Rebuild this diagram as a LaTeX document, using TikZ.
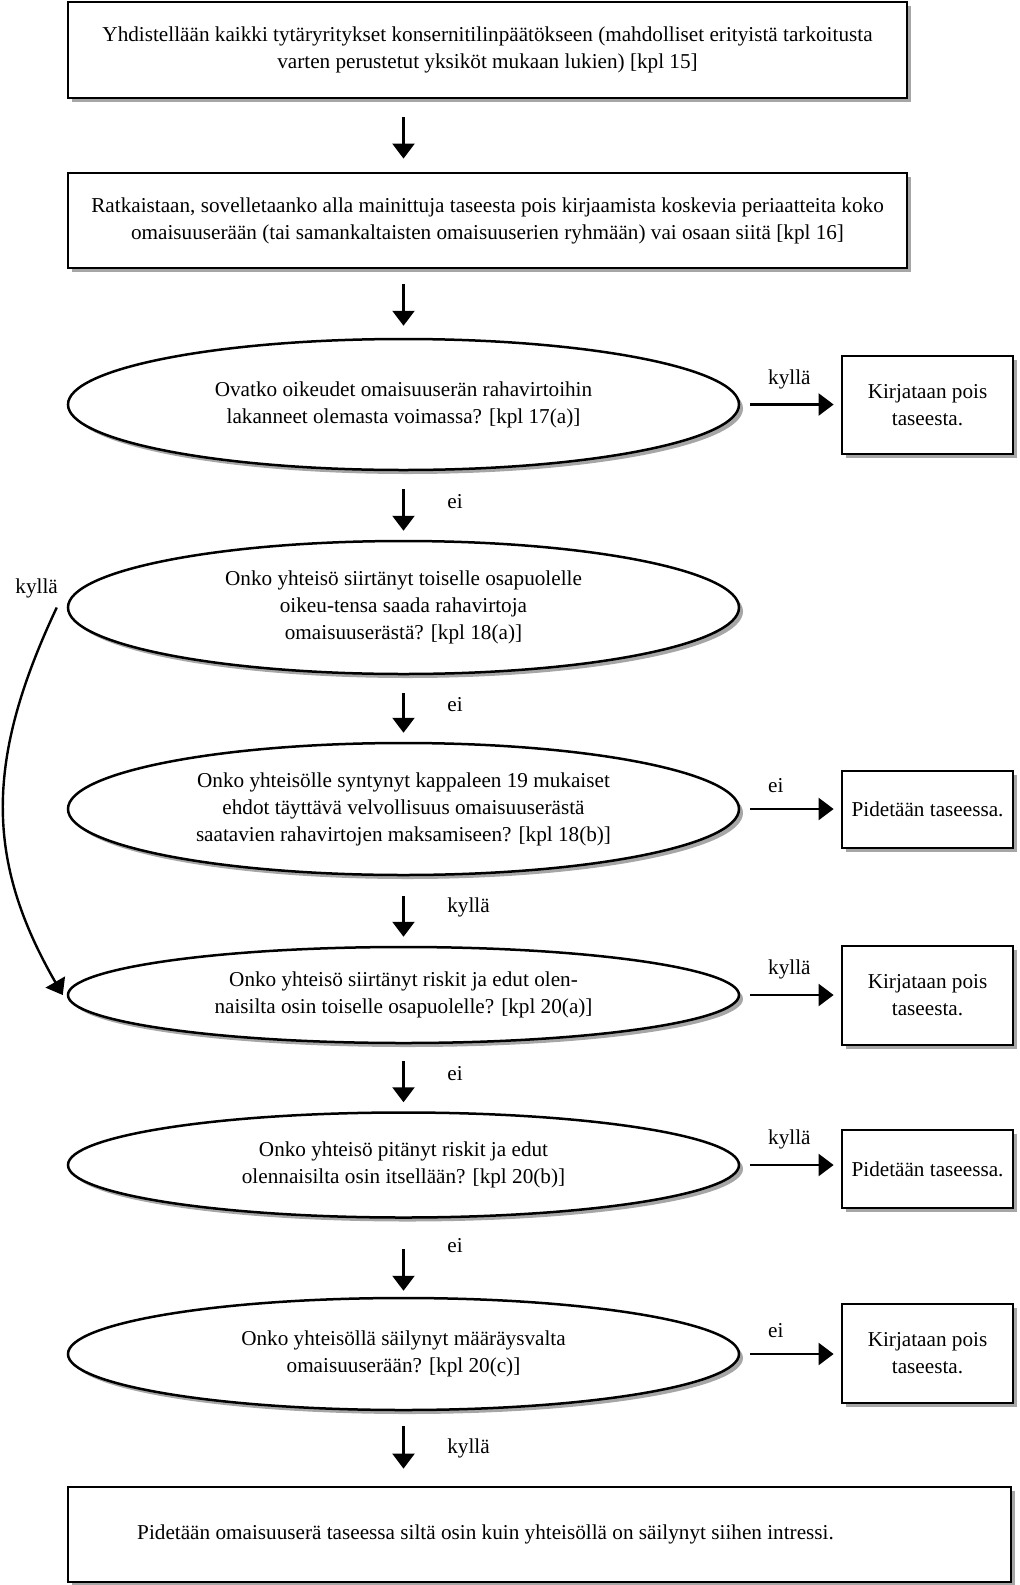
\documentclass[tikz,border=0pt]{standalone}
\usepackage{fontspec}
\setmainfont{Liberation Serif}
\usetikzlibrary{arrows.meta,shapes.geometric,shadows}

\begin{document}
\begin{tikzpicture}[x=0.5pt,y=-0.5pt,
  font=\fontsize{10.6}{13.5}\selectfont,
  shadowed/.style={drop shadow={shadow xshift=2pt,shadow yshift=-2pt,fill=black!35,opacity=1}},
  flowbox/.style={draw,line width=1.4pt,fill=white,shadowed,align=center,inner sep=0pt},
  query/.style={ellipse,draw,line width=1.25pt,fill=white,shadowed,align=center,inner sep=0pt,minimum width=335.5pt},
  result/.style={flowbox,minimum width=85.5pt},
  arr/.style={line width=1.2pt,-{Triangle[length=7.5pt,width=11pt]}},
  down/.style={arr,shorten <=9pt,shorten >=4.5pt},
  side/.style={arr,shorten <=5pt,shorten >=3.5pt},
  downlabel/.style={anchor=west,xshift=18pt,yshift=2pt},
  sidelabel/.style={anchor=south west,pos=0.2,yshift=4pt},
]
\useasboundingbox (0,0) rectangle (1020,1585);

% main column
\node[flowbox,minimum width=419.5pt,minimum height=48pt] (yhd) at (487.5,50)
  {Yhdistellään kaikki tytäryritykset konsernitilinpäätökseen (mahdolliset erityistä tarkoitusta\\varten perustetut yksiköt mukaan lukien) [kpl 15]};
\node[flowbox,minimum width=419.5pt,minimum height=47.5pt] (ratk) at (487.5,220.5)
  {Ratkaistaan, sovelletaanko alla mainittuja taseesta pois kirjaamista koskevia periaatteita koko\\omaisuuserään (tai samankaltaisten omaisuuserien ryhmään) vai osaan siitä [kpl 16]};
\node[query,minimum height=65.5pt] (oik) at (403.5,404.5)
  {Ovatko oikeudet omaisuuserän rahavirtoihin\\lakanneet olemasta voimassa? [kpl 17(a)]};
\node[query,minimum height=66.5pt] (siirto) at (403.5,607.5)
  {Onko yhteisö siirtänyt toiselle osapuolelle\\oikeu-tensa saada rahavirtoja\\omaisuuserästä? [kpl 18(a)]};
\node[query,minimum height=66pt] (velv) at (403.5,809)
  {Onko yhteisölle syntynyt kappaleen 19 mukaiset\\ehdot täyttävä velvollisuus omaisuuserästä\\saatavien rahavirtojen maksamiseen? [kpl 18(b)]};
\node[query,minimum height=48pt] (riskit) at (403.5,995)
  {Onko yhteisö siirtänyt riskit ja edut olen-\\naisilta osin toiselle osapuolelle? [kpl 20(a)]};
\node[query,minimum height=52.5pt] (pitanyt) at (403.5,1165)
  {Onko yhteisö pitänyt riskit ja edut\\olennaisilta osin itsellään? [kpl 20(b)]};
\node[query,minimum height=56pt] (maar) at (403.5,1354)
  {Onko yhteisöllä säilynyt määräysvalta\\omaisuuserään? [kpl 20(c)]};
\node[flowbox,minimum width=471.5pt,minimum height=47.5pt] (osin) at (539.5,1534.5)
  {\hspace*{-54pt}Pidetään omaisuuserä taseessa siltä osin kuin yhteisöllä on säilynyt siihen intressi.};

% outcomes
\node[result,minimum height=49pt] (pois1) at (927.5,405) {Kirjataan pois\\taseesta.};
\node[result,minimum height=38.5pt] (pid1) at (927.5,809.5) {Pidetään taseessa.};
\node[result,minimum height=49.5pt] (pois2) at (927.5,995.5) {Kirjataan pois\\taseesta.};
\node[result,minimum height=39pt] (pid2) at (927.5,1169) {Pidetään taseessa.};
\node[result,minimum height=49.5pt] (pois3) at (927.5,1353.5) {Kirjataan pois\\taseesta.};

% arrows down
\draw[down,shorten >=6.5pt] (yhd.south -| oik.north) -- (ratk.north -| oik.north);
\draw[down,shorten <=7.5pt,shorten >=6pt] (ratk.south -| oik.north) -- (oik.north);
\draw[down] (oik) -- node[downlabel] {ei} (siirto);
\draw[down] (siirto) -- node[downlabel] {ei} (velv);
\draw[down,shorten <=10pt] (velv) -- node[downlabel] {kyllä} (riskit);
\draw[down,shorten <=8.5pt] (riskit) -- node[downlabel] {ei} (pitanyt);
\draw[down,shorten <=15pt,shorten >=3pt] (pitanyt) -- node[downlabel,yshift=4pt] {ei} (maar);
\draw[down,shorten <=7.5pt,shorten >=8.5pt] (maar.south) -- node[downlabel,yshift=-2pt] {kyllä} (osin.north -| maar.south);

% arrows right
\draw[side] (oik.east) -- node[sidelabel] {kyllä} (oik.east -| pois1.west);
\draw[side] (velv.east) -- node[sidelabel] {ei} (velv.east -| pid1.west);
\draw[side] (riskit.east) -- node[sidelabel] {kyllä} (riskit.east -| pois2.west);
\draw[side] (pitanyt.east) -- node[sidelabel] {kyllä} (pitanyt.east -| pid2.west);
\draw[side] (maar.east) -- node[sidelabel] {ei} (maar.east -| pois3.west);

% kyllä around the loop
\draw[arr] ([xshift=-5pt]siirto.west) .. controls (-15,760) and (-15,860) .. ([xshift=-2pt]riskit.west)
  node[pos=0,anchor=south east,yshift=1pt,xshift=4.5pt] {kyllä};
\end{tikzpicture}
\end{document}
